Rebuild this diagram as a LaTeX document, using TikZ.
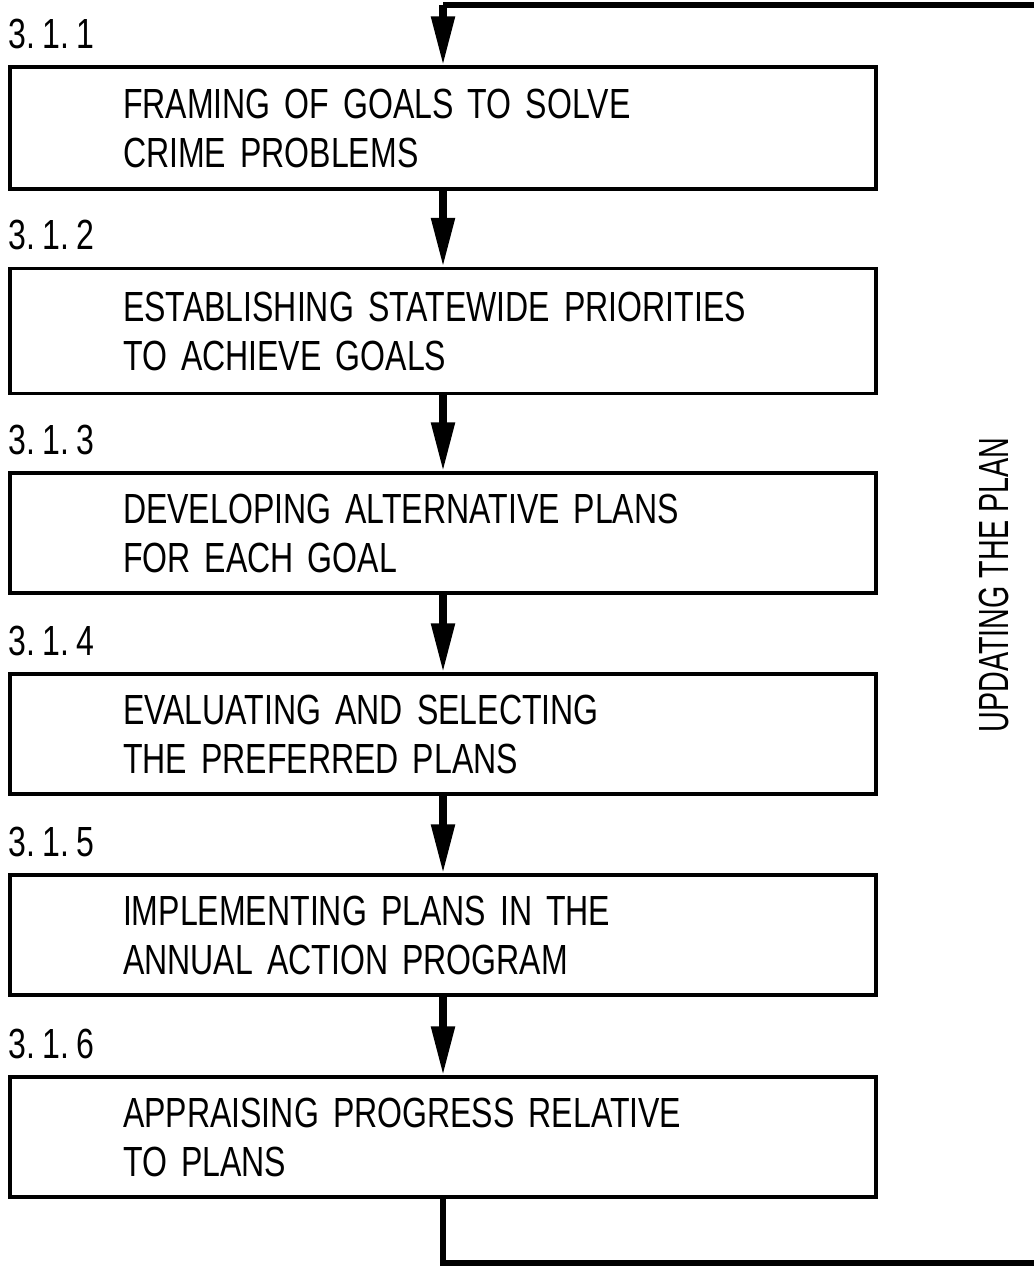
\documentclass[tikz,border=0pt]{standalone}
\usepackage{fontspec}
\setmainfont{Liberation Sans}[FakeStretch=0.76]
\newfontfamily\sidefont{Liberation Sans}[FakeStretch=0.68]
\usetikzlibrary{arrows.meta}
\begin{document}
\begin{tikzpicture}[x=0.02cm,y=-0.02cm,
    stepbox/.style={draw, line width=2pt, minimum width=17.32cm, minimum height=2.4cm,
      text width=12.8cm, inner xsep=2.26cm, align=left, font=\fontsize{24}{27.9}\selectfont},
    num/.style={anchor=base west, inner sep=0pt, font=\fontsize{24}{28}\selectfont},
    flow/.style={line width=4pt, -{Triangle[length=0.98cm,width=0.45cm]}},
    loop/.style={line width=3pt}]
    \useasboundingbox (0,0) rectangle (1034,1267);
    \node[stepbox, minimum height=2.44cm] (b1) at (443,128) {FRAMING OF GOALS TO SOLVE\\CRIME PROBLEMS};
    \node[stepbox, minimum height=2.5cm] (b2) at (443,331) {ESTABLISHING STATEWIDE PRIORITIES\\TO ACHIEVE GOALS};
    \node[stepbox] (b3) at (443,533) {DEVELOPING ALTERNATIVE PLANS\\FOR EACH GOAL};
    \node[stepbox] (b4) at (443,734) {EVALUATING AND SELECTING\\THE PREFERRED PLANS};
    \node[stepbox] (b5) at (443,935) {IMPLEMENTING PLANS IN THE\\ANNUAL ACTION PROGRAM};
    \node[stepbox] (b6) at (443,1137) {APPRAISING PROGRESS RELATIVE\\TO PLANS};
    % step numbers
    \node[num] (n1) at ([yshift=0.34cm]b1.north west) {3.\,1.\,1};
    \node[num] (n2) at ([yshift=0.34cm]b2.north west) {3.\,1.\,2};
    \node[num] (n3) at ([yshift=0.34cm]b3.north west) {3.\,1.\,3};
    \node[num] (n4) at ([yshift=0.34cm]b4.north west) {3.\,1.\,4};
    \node[num] (n5) at ([yshift=0.34cm]b5.north west) {3.\,1.\,5};
    \node[num] (n6) at ([yshift=0.34cm]b6.north west) {3.\,1.\,6};
    \draw[flow] (b1) -- (b2);
    \draw[flow] (b2) -- (b3);
    \draw[flow] (b3) -- (b4);
    \draw[flow] (b4) -- (b5);
    \draw[flow] (b5) -- (b6);
    % feedback loop
    \coordinate (lb) at (1034,1263);
    \coordinate (lt) at (1034,5);
    \draw[loop] (b6.south) -- (b6.south |- lb) -- (lb);
    \draw[loop] (lt) -- (b1.north |- lt);
    \draw[flow] (b1.north |- lt) -- (b1.north);
    \node[rotate=90, font=\sidefont\fontsize{24}{28}\selectfont] (upd) at (994,585) {UPDATING THE PLAN};
\end{tikzpicture}
\end{document}
